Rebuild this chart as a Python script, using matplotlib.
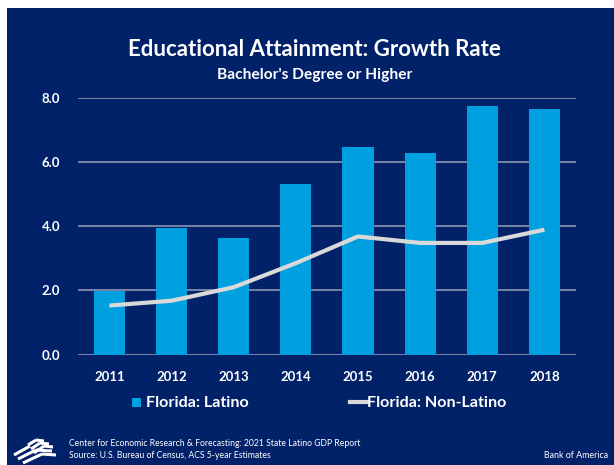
import matplotlib
matplotlib.use("Agg")
import matplotlib.pyplot as plt
from matplotlib.patches import Rectangle
from matplotlib.lines import Line2D

years = ["2011", "2012", "2013", "2014", "2015", "2016", "2017", "2018"]
latino = [1.99, 3.95, 3.63, 5.30, 6.48, 6.27, 7.73, 7.64]
non_latino = [1.53, 1.68, 2.10, 2.85, 3.68, 3.48, 3.48, 3.89]
yticks = [0.0, 2.0, 4.0, 6.0, 8.0]

NAVY = "#012169"
BLUE = "#009FDF"
LINE = "#D9D9D9"
GRID = "#8F95B2"
FONT = ["Lato", "DejaVu Sans"]
plt.rcParams["font.family"] = FONT

W, H = 614, 465
fig = plt.figure(figsize=(W / 100, H / 100), dpi=100)
fig.patch.set_facecolor(NAVY)
# white margins top and left
fig.patches.append(Rectangle((0, 1 - 8 / H), 1, 8 / H, transform=fig.transFigure,
                             facecolor="white", edgecolor="none", zorder=-5))
fig.patches.append(Rectangle((0, 0), 7 / W, 1, transform=fig.transFigure,
                             facecolor="white", edgecolor="none", zorder=-5))

ax = fig.add_axes([78.3 / W, 1 - 354.7 / H, (575.5 - 78.3) / W, (354.7 - 97.7) / H])
ax.set_facecolor("none")
x = list(range(len(years)))
ax.bar(x, latino, width=0.5, color=BLUE, zorder=2)
ax.plot(x, non_latino, color=LINE, linewidth=3, zorder=3, solid_capstyle="butt")
ax.set_xlim(-0.5, len(years) - 0.5)
ax.set_ylim(0, 8)
ax.set_yticks(yticks)
ax.set_yticklabels([f"{v:.1f}" for v in yticks])
ax.set_xticks(x)
ax.set_xticklabels(years)
for s in ["top", "right", "left", "bottom"]:
    ax.spines[s].set_visible(False)
ax.yaxis.grid(True, color=GRID, linewidth=1.2, zorder=1)
ax.set_axisbelow(True)
ax.tick_params(axis="both", length=0, colors="white", labelsize=9.5)
ax.tick_params(axis="y", pad=13)
ax.tick_params(axis="x", pad=12)
for lab in ax.get_xticklabels() + ax.get_yticklabels():
    lab.set_fontweight("bold")

fig.text(314 / W, 1 - 50 / H, "Educational Attainment: Growth Rate", color="white",
         fontsize=16.0, fontweight="bold", ha="center", va="center")
fig.text(315 / W, 1 - 75 / H, "Bachelor's Degree or Higher", color="white",
         fontsize=11.2, fontweight="bold", ha="center", va="center")

# legend
fig.patches.append(Rectangle((132 / W, 1 - 407 / H), 9 / W, 9 / H, transform=fig.transFigure,
                             facecolor=BLUE, edgecolor="none", zorder=5))
fig.text(146 / W, 1 - 403 / H, "Florida: Latino", color="white", fontsize=11.6,
         fontweight="bold", ha="left", va="center")
fig.lines.append(Line2D([350 / W, 367 / W], [1 - 402 / H, 1 - 402 / H], transform=fig.transFigure,
                        color=LINE, linewidth=3))
fig.text(367 / W, 1 - 403 / H, "Florida: Non-Latino", color="white", fontsize=11.6,
         fontweight="bold", ha="left", va="center")

# footnotes
fig.text(69 / W, 1 - 443 / H, "Center for Economic Research & Forecasting: 2021 State Latino GDP Report",
         color="white", fontsize=6.2, ha="left", va="center")
fig.text(69 / W, 1 - 455 / H, "Source: U.S. Bureau of Census, ACS 5-year Estimates",
         color="white", fontsize=6.2, ha="left", va="center")
fig.text(608 / W, 1 - 455 / H, "Bank of America", color="white", fontsize=6.4,
         ha="right", va="center")

# simple flag logo (decoration)
def seg(x0, y0, x1, y1, lw=2.2):
    fig.lines.append(Line2D([x0 / W, x1 / W], [1 - y0 / H, 1 - y1 / H],
                            transform=fig.transFigure, color="white",
                            linewidth=lw, solid_capstyle="butt"))

# upper chevrons
seg(28, 445, 36, 440); seg(36, 440, 44, 441)
seg(31, 449, 40, 443); seg(40, 443, 49, 444)
seg(34, 453, 44, 446); seg(44, 446, 53, 447)
# lower long stripes
seg(14, 455, 30, 446); seg(18, 459, 36, 450); seg(36, 450, 52, 451)
seg(23, 463, 42, 454); seg(42, 454, 56, 455)

fig.savefig("out.png", dpi=100, facecolor=fig.get_facecolor())
